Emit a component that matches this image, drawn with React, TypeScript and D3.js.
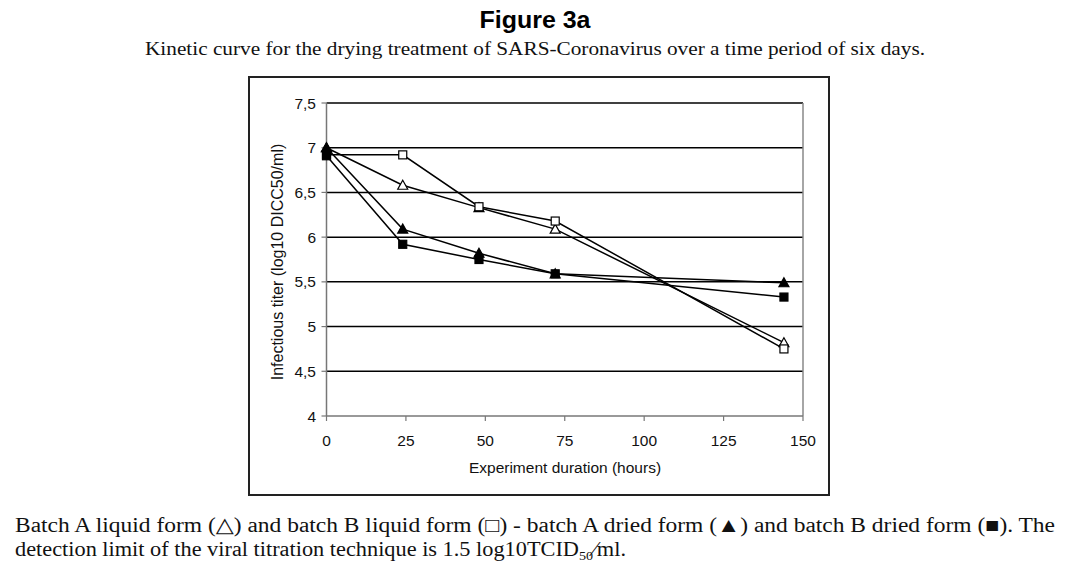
import React from "react";
import * as d3 from "d3";

const hours = [0, 24, 48, 72, 144];
const batchALiquid = [7.0, 6.58, 6.33, 6.09, 4.82];
const batchBLiquid = [6.92, 6.92, 6.34, 6.18, 4.75];
const batchADried = [7.0, 6.09, 5.82, 5.59, 5.49];
const batchBDried = [6.91, 5.92, 5.75, 5.59, 5.33];

const yTicks = [4, 4.5, 5, 5.5, 6, 6.5, 7, 7.5];
const xTicks = [0, 25, 50, 75, 100, 125, 150];

const series = [
  { name: "Batch A liquid", values: batchALiquid, shape: "triangle", filled: false },
  { name: "Batch B liquid", values: batchBLiquid, shape: "square", filled: false },
  { name: "Batch A dried", values: batchADried, shape: "triangle", filled: true },
  { name: "Batch B dried", values: batchBDried, shape: "square", filled: true },
];

const fmt = (v: number) => String(v).replace(".", ",");

export default function App() {
  const x = d3.scaleLinear().domain([0, 150]).range([326.5, 803]);
  const y = d3.scaleLinear().domain([4, 7.5]).range([416, 103]);
  const line = d3
    .line<number>()
    .x((_, i) => x(hours[i]))
    .y((d) => y(d));

  const sans = "'Liberation Sans', Arial, sans-serif";
  const serif = "'Liberation Serif', 'DejaVu Serif', serif";

  const marker = (shape: string, filled: boolean, cx: number, cy: number, k: string) => {
    const fill = filled ? "#000" : "#fff";
    if (shape === "square") {
      return (
        <rect key={k} x={cx - 4} y={cy - 4} width={8} height={8} fill={fill} stroke="#000" strokeWidth={1.2} />
      );
    }
    const h = 9;
    const w = 10;
    return (
      <path
        key={k}
        d={`M${cx},${cy - h / 2 - 0.5} L${cx + w / 2},${cy + h / 2 - 0.5} L${cx - w / 2},${cy + h / 2 - 0.5} Z`}
        fill={fill}
        stroke="#000"
        strokeWidth={1.2}
      />
    );
  };

  return (
    <svg
      width={1069}
      height={574}
      style={{ position: "absolute", left: 0, top: 0, background: "#fff" }}
    >
      <rect x={0} y={0} width={1069} height={574} fill="#fff" />
      <text x={535} y={28} textAnchor="middle" fontFamily={sans} fontWeight="bold" fontSize={23} textLength={111} lengthAdjust="spacingAndGlyphs">
        Figure 3a
      </text>
      <text x={145} y={55} fontFamily={serif} fontSize={18} textLength={780} lengthAdjust="spacingAndGlyphs" fill="#111">
        Kinetic curve for the drying treatment of SARS-Coronavirus over a time period of six days.
      </text>

      {/* outer chart box */}
      <rect x={249} y={77} width={580} height={418} fill="#fff" stroke="#222" strokeWidth={2} />

      {/* gridlines */}
      {yTicks.filter((t) => t > 4).map((t) => (
        <line key={"g" + t} x1={x(0)} x2={x(150)} y1={y(t)} y2={y(t)} stroke="#000" strokeWidth={1.5} />
      ))}
      {/* plot border right */}
      <line x1={x(150)} x2={x(150)} y1={y(7.5)} y2={y(4)} stroke="#888" strokeWidth={1.5} />
      {/* axes */}
      <line x1={x(0)} x2={x(0)} y1={y(7.5)} y2={y(4)} stroke="#777" strokeWidth={1.5} />
      <line x1={x(0)} x2={x(150)} y1={y(4)} y2={y(4)} stroke="#777" strokeWidth={1.5} />
      {yTicks.map((t) => (
        <g key={"yt" + t}>
          <line x1={x(0) - 5} x2={x(0)} y1={y(t)} y2={y(t)} stroke="#777" strokeWidth={1.2} />
          <text x={316} y={y(t) + 5.5} textAnchor="end" fontFamily={sans} fontSize={15.5} fill="#111">
            {fmt(t)}
          </text>
        </g>
      ))}
      {xTicks.map((t) => (
        <g key={"xt" + t}>
          <line x1={x(t)} x2={x(t)} y1={y(4)} y2={y(4) + 5} stroke="#777" strokeWidth={1.2} />
          <text x={x(t)} y={446} textAnchor="middle" fontFamily={sans} fontSize={15.5} fill="#111">
            {t}
          </text>
        </g>
      ))}
      <text x={565} y={473} textAnchor="middle" fontFamily={sans} fontSize={15.5} fill="#111">
        Experiment duration (hours)
      </text>
      <text
        transform={`translate(283, 262) rotate(-90)`}
        textAnchor="middle"
        fontFamily={sans}
        fontSize={16}
        fill="#111"
      >
        Infectious titer (log10 DICC50/ml)
      </text>

      {/* series */}
      {series.map((s) => (
        <g key={s.name}>
          <path d={line(s.values) || ""} fill="none" stroke="#000" strokeWidth={1.5} />
          {s.values.map((v, i) => marker(s.shape, s.filled, x(hours[i]), y(v), s.name + i))}
        </g>
      ))}

      {/* caption */}
      <text x={15} y={532} fontFamily={serif} fontSize={20.5} fill="#111" textLength={1040} lengthAdjust="spacingAndGlyphs">
        Batch A liquid form (△) and batch B liquid form (□) - batch A dried form (▲) and batch B dried form (■). The
      </text>
      <text x={15} y={556} fontFamily={serif} fontSize={20.5} fill="#111" textLength={611} lengthAdjust="spacingAndGlyphs">
        detection limit of the viral titration technique is 1.5 log10TCID
        <tspan fontSize={13} dy={4}>50</tspan>
        <tspan dy={-4}>⁄ml.</tspan>
      </text>
    </svg>
  );
}
